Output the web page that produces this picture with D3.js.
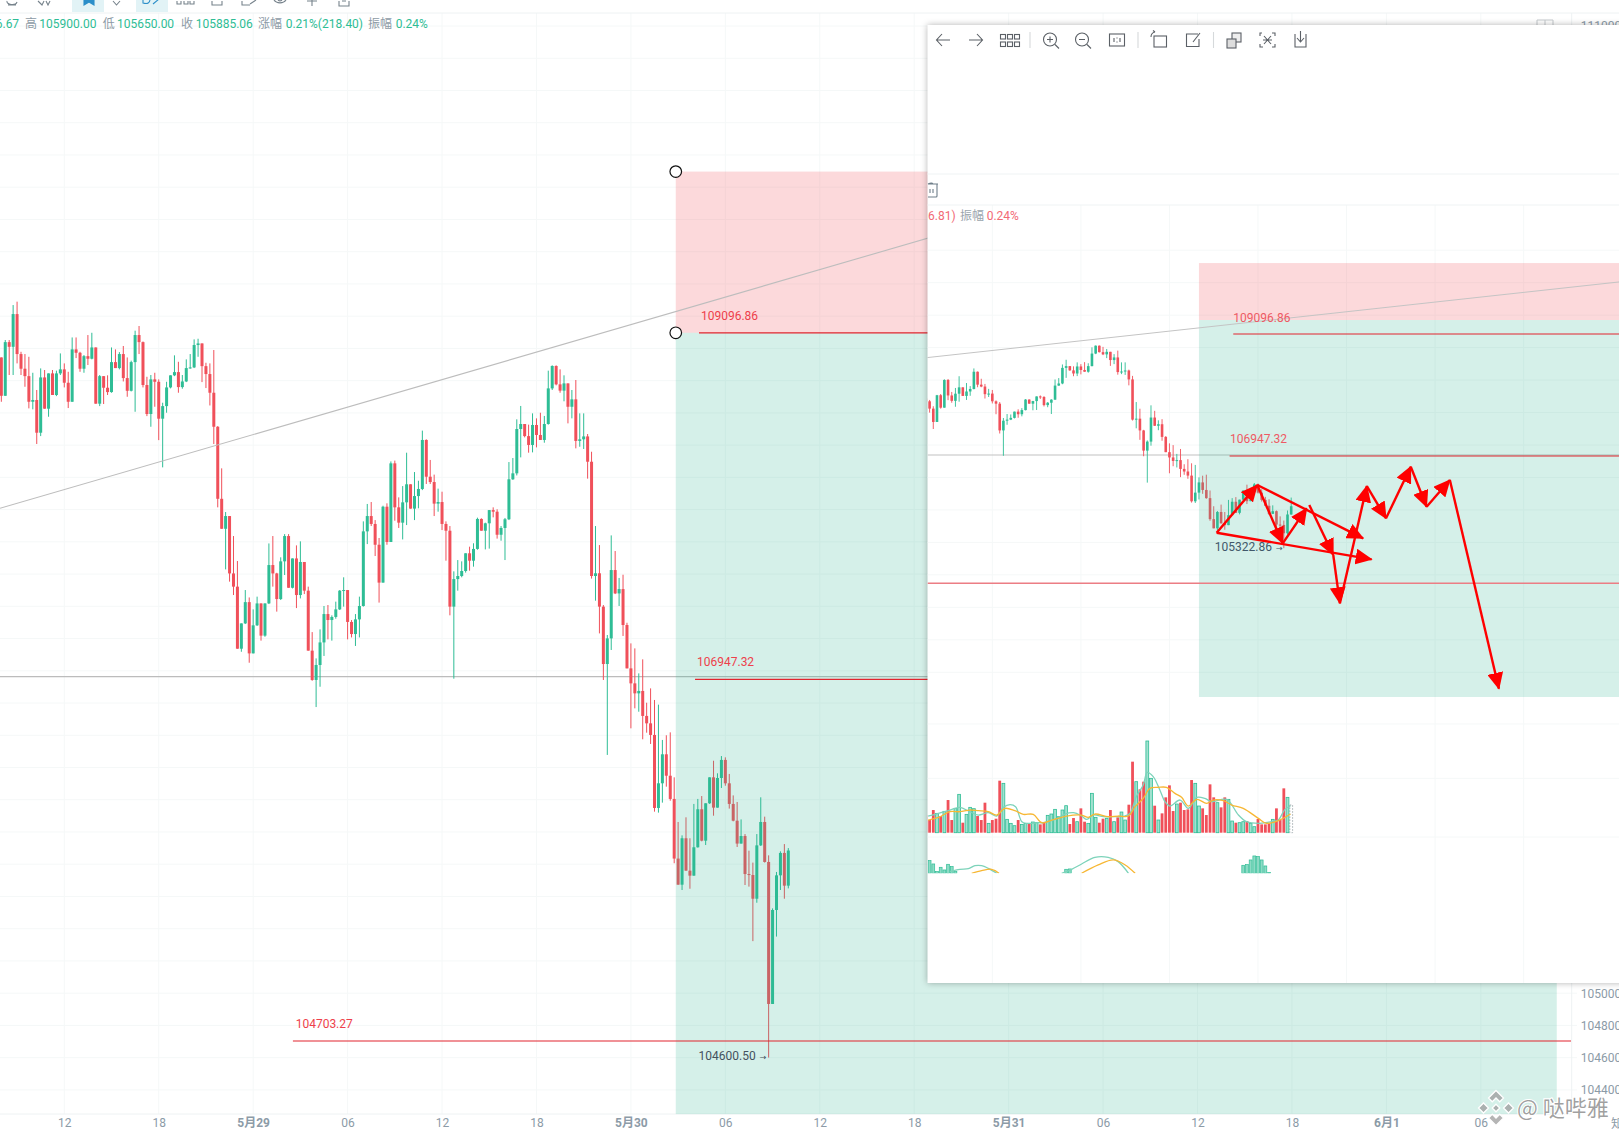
<!DOCTYPE html>
<html>
<head>
<meta charset="utf-8">
<title>BTC 15m</title>
<script src="https://cdn.jsdelivr.net/npm/d3@7/dist/d3.min.js"></script>
<style>
    html, body { margin: 0; padding: 0; background: #fff; overflow: hidden; }
    svg { display: block; font-family: Roboto, "Noto Sans CJK SC", sans-serif; }
</style>
</head>
<body>
<svg id="chart" width="1619" height="1133"></svg>
<script>
"use strict";

// 15 minute candles, index 0 is 5月28 08:00
var firstOpen = 108944;

var closes = [
    108706, 109039, 109010, 109213, 108965, 108874, 108828, 108669, 108680, 108477, 108820, 108626,
    108845, 108711, 108845, 108870, 108787, 108669, 108994, 108973, 108874, 108952, 108936, 109006,
    108657, 108828, 108756, 108729, 108915, 108878, 108965, 108816, 108737, 108915, 109083, 109039,
    108773, 108593, 108808, 108793, 108564, 108642, 108758, 108833, 108853, 108760, 108795, 108878,
    108882, 109021, 109031, 108890, 108841, 108725, 108514, 108067, 107881, 107960, 107604, 107522,
    107137, 107294, 107426, 107108, 107282, 107418, 107218, 107418, 107656, 107604, 107445, 107679,
    107836, 107515, 107697, 107470, 107675, 107497, 107125, 106943, 107036, 107176, 107352, 107315,
    107334, 107381, 107497, 107501, 107303, 107228, 107319, 107402, 107865, 107960, 107911, 107782,
    107547, 108018, 107799, 108287, 108014, 107919, 108045, 108157, 108006, 108084, 108128, 108432,
    108204, 108171, 108037, 108047, 107911, 107869, 107398, 107569, 107588, 107619, 107729, 107683,
    107756, 107942, 107869, 107915, 107997, 107987, 107844, 107886, 107940, 108188, 108225, 108500,
    108531, 108456, 108401, 108525, 108463, 108432, 108531, 108752, 108891, 108777, 108738, 108783,
    108638, 108684, 108426, 108436, 108454, 108297, 107588, 107605, 107398, 107042, 107201, 107625,
    107480, 107507, 107284, 107015, 106922, 106860, 106875, 106720, 106674, 106602, 106149, 106302,
    106482, 106349, 106205, 105835, 105673, 105961, 105760, 105729, 105905, 106141, 105946, 106178,
    106339, 106151, 106335, 106447, 106302, 106174, 106070, 105928, 105975, 105739, 105733, 105586,
    105917, 106062, 105814, 104933, 105516, 105731, 105870, 105667, 105885.06
];

var highs = [
    108944, 109052, 109052, 109269, 109290, 108979, 108965, 108948, 108849, 108742, 108876, 108866,
    108845, 108866, 108862, 108969, 108907, 108855, 109068, 109068, 108979, 108959, 109083, 109097,
    109006, 108835, 108828, 108833, 109006, 108994, 108977, 109015, 108944, 108924, 109110, 109139,
    109043, 108824, 108835, 108849, 108808, 108663, 108793, 108833, 108957, 108917, 108835, 108932,
    108965, 109056, 109060, 109031, 108911, 108907, 108990, 108518, 108256, 107985, 107960, 107836,
    107681, 107294, 107501, 107455, 107381, 107460, 107418, 107418, 107790, 107836, 107608, 107704,
    107848, 107848, 107697, 107778, 107803, 107675, 107522, 107240, 107077, 107257, 107402, 107408,
    107344, 107429, 107501, 107580, 107501, 107315, 107352, 107460, 107927, 108035, 108047, 107935,
    107824, 108024, 108039, 108299, 108304, 108076, 108146, 108353, 108157, 108233, 108179, 108490,
    108436, 108308, 108217, 108130, 108111, 107927, 107898, 107617, 107687, 107679, 107729, 107770,
    107791, 107950, 107946, 107919, 107997, 108014, 108002, 107898, 107948, 108295, 108320, 108560,
    108643, 108531, 108527, 108597, 108566, 108601, 108581, 108862, 108895, 108895, 108870, 108833,
    108783, 108742, 108804, 108597, 108597, 108469, 108359, 107898, 107780, 107408, 107222, 107840,
    107743, 107576, 107596, 107298, 107170, 107139, 106984, 107071, 106802, 106891, 106819, 106790,
    106571, 106600, 106618, 106339, 106062, 105979, 106091, 105961, 106174, 106205, 106223, 106178,
    106339, 106442, 106364, 106471, 106463, 106360, 106227, 106186, 106078, 105987, 105884, 105810,
    105987, 106215, 106095, 105855, 105526, 105752, 105880, 105925, 105900
];

var lows = [
    108669, 108706, 108835, 108835, 108907, 108835, 108762, 108628, 108622, 108407, 108456, 108626,
    108576, 108711, 108704, 108835, 108758, 108630, 108669, 108940, 108855, 108849, 108897, 108932,
    108657, 108642, 108655, 108711, 108725, 108878, 108870, 108795, 108700, 108733, 108607, 108965,
    108758, 108580, 108514, 108638, 108431, 108262, 108601, 108752, 108828, 108725, 108750, 108791,
    108874, 108878, 108948, 108791, 108754, 108646, 108407, 108014, 107881, 107629, 107553, 107470,
    107137, 107118, 107290, 107050, 107108, 107278, 107187, 107211, 107414, 107522, 107367, 107439,
    107594, 107515, 107511, 107389, 107449, 107476, 107125, 106938, 106775, 106901, 107092, 107195,
    107187, 107323, 107377, 107398, 107195, 107207, 107154, 107207, 107398, 107786, 107898, 107712,
    107423, 107547, 107782, 107799, 107931, 107886, 107815, 107904, 108006, 107935, 108008, 108121,
    108159, 108159, 107960, 107987, 107873, 107683, 107344, 106951, 107497, 107580, 107609, 107621,
    107646, 107751, 107869, 107753, 107758, 107952, 107820, 107807, 107687, 107935, 108184, 108212,
    108324, 108448, 108353, 108355, 108386, 108432, 108415, 108527, 108742, 108771, 108725, 108672,
    108535, 108566, 108380, 108390, 108376, 108192, 107572, 107435, 107232, 106943, 106478, 107129,
    107476, 107402, 107216, 107015, 106643, 106767, 106746, 106575, 106616, 106546, 106126, 106120,
    106182, 106281, 106194, 105806, 105673, 105640, 105760, 105648, 105729, 105903, 105942, 105919,
    106174, 106101, 106151, 106273, 106287, 106145, 106066, 105907, 105928, 105671, 105661, 105322.86,
    105561, 105913, 105810, 104600.5, 104933, 105351, 105640, 105586, 105650
];

var volumeStart = 94;
var volumes = [
    53, 38, 68, 58, 50, 64, 98, 38, 73, 115, 30, 55, 76, 72, 50, 38, 90, 28, 38, 42,
    156, 148, 40, 28, 21, 38, 25, 28, 26, 32, 30, 25, 30, 52, 56, 70, 48, 68, 81, 26,
    44, 33, 73, 33, 28, 118, 46, 30, 42, 43, 68, 33, 46, 62, 38, 84, 213, 153, 130, 153,
    275, 163, 81, 38, 58, 106, 142, 65, 86, 90, 68, 70, 158, 148, 80, 73, 53, 145, 106, 90,
    76, 106, 100, 35, 30, 30, 33, 35, 28, 18, 41, 25, 25, 28, 40, 73, 38, 133, 106, 83
];

// volume averages as [candle index, volume]
var volumeMaFast = [
    [94.6, 50], [97.4, 58], [100.5, 68], [103.2, 76], [105.9, 63], [108.2, 53], [110.9, 60], [113.2, 50],
    [115, 76], [116.8, 84], [118.3, 78], [120, 33], [121.3, 28], [124.5, 30], [125.8, 30], [129, 40],
    [131.7, 56], [134, 60], [136.2, 50], [137.6, 40], [139.4, 53], [142.1, 48], [144.3, 48], [147.9, 50],
    [149.3, 58], [151.1, 110], [152.9, 143], [154, 181], [155.6, 168], [157.4, 128], [158.8, 93], [160.1, 80],
    [162.9, 98], [165.1, 73], [167.4, 106], [169.6, 103], [171.4, 93], [175.5, 100], [178.7, 53], [180.9, 33],
    [184.5, 28], [187.7, 33], [189.5, 38], [191.3, 70], [192.8, 80]
];
var volumeMaSlow = [
    [94.6, 38], [97.4, 46], [100.5, 63], [103.2, 63], [105.9, 68], [108.2, 66], [110.9, 63], [113.2, 53],
    [115.4, 73], [118.1, 66], [120.4, 55], [123.1, 55], [125.4, 30], [128.1, 38], [130.8, 46], [132.1, 50],
    [136.2, 53], [138, 46], [139.8, 56], [143.4, 48], [146.1, 50], [148.9, 50], [150.7, 78], [152.9, 103],
    [154.7, 133], [157, 136], [159.2, 136], [161.5, 118], [163.3, 106], [165.1, 80], [167.4, 100], [170.1, 88],
    [171.9, 98], [174.6, 96], [176.9, 83], [180, 73], [184.1, 43], [186.3, 28], [189.5, 36], [192.8, 56]
];

// lower indicator, only its top is visible
var macdBars = [
    [95, 38], [96, 28], [97, 5], [98, 18], [99, 10], [100, 27], [101, 20], [102, 5],
    [132, 12], [133, 13],
    [180, 24], [181, 26], [182, 40], [183, 52], [184, 50], [185, 40], [186, 22], [187, 2]
];
var macdFast = [
    [[100.5, 5], [103.2, 12], [105.5, 14], [107.3, 23], [109.1, 23], [110.9, 15], [113.2, 0]],
    [[130.8, 0], [133.5, 12], [136.2, 28], [139.8, 48], [143.4, 48], [146.1, 35], [148.9, 0]]
];
var macdSlow = [
    [[106.4, 0], [109.1, 8], [111.8, 12], [113.8, 0]],
    [[136.2, 0], [140.7, 25], [144.8, 40], [148, 25], [150.7, 0]]
];

var priceGridTicks = d3.range(104400, 111200, 200);
var priceLabelTicks = [104400, 104600, 104800, 105000, 111000];
var timeTicks = [16, 40, 64, 88, 112, 136, 160, 184, 208, 232, 256, 280, 304, 328, 352, 376];
var timeLabels = ["12", "18", "5月29", "06", "12", "18", "5月30", "06", "12", "18", "5月31", "06", "12", "18", "6月1", "06"];
var insetGridIndex = [112, 136, 160, 184, 208, 232, 256];
var insetGridPrices = d3.range(103137, 111000, 572);
var volumeGridTicks = [326, 163, -13];

var takeProfit = 109096.86;
var midLevel = 106947.32;
var grayLevel = 106964;
var stopLevel = 104703.27;
var insetLow = 105322.86;
var mainLow = 104600.5;

// drawn trend line as [candle index, price]
var trendLine = [[-0.34, 108008], [320, 110285]];

var mainZone = { start: 171.4, end: 395.3, top: 110097, split: takeProfit, bottom: 104250 };
var insetZone = { start: 168, end: 290, top: 110347, split: 109343, bottom: 102701 };

// hand drawn arrows on the small chart, [candle index, price]
var arrowPoints = {
    A: [172.8, 105596], B: [183.8, 106436], C: [190.7, 105409], D: [197.2, 106026],
    E: [212.5, 105497], F: [214.8, 105127], G: [197.9, 106084], H: [204.4, 105203],
    I: [206.2, 104352], J: [213.5, 106418], K: [218.7, 105849], L: [225.4, 106759],
    M: [229.7, 106054], N: [236, 106524], O: [249.3, 102847]
};
var arrowLegs = ["AB", "BC", "CD", "BE", "AF", "GH", "HI", "IJ", "JK", "KL", "LM", "MN", "NO"];

var headerLabels = ["高", "低", "收", "涨幅", "振幅"];
var headerValues = ["105666.67", "105900.00", "105650.00", "105885.06", "0.21%(218.40)", "0.24%"];

var RED = "#f0505a";
var GREEN = "#2ebd95";
var LINE_RED = "#e2242e";
var AXIS_TEXT = "#8c9ba7";

var svg = d3.select("#chart");

var candles = closes.map(function(close, i) {
    return {
        i: i,
        open: i === 0 ? firstOpen : closes[i - 1],
        close: close,
        high: highs[i],
        low: lows[i]
    };
});

/**
 * Draw wicks and bodies of a candle range
 */
function drawCandles(parent, data, x, y, bodyWidth, wickWidth) {

    var groups = parent.selectAll("g.candle")
        .data(data)
        .enter()
        .append("g")
        .attr("class", "candle")
        .attr("fill", function(d) { return d.close >= d.open ? GREEN : RED; })
        .attr("stroke", function(d) { return d.close >= d.open ? GREEN : RED; });

    groups.append("line")
        .attr("x1", function(d) { return x(d.i); })
        .attr("x2", function(d) { return x(d.i); })
        .attr("y1", function(d) { return y(d.high); })
        .attr("y2", function(d) { return y(d.low); })
        .attr("stroke-width", wickWidth);

    groups.append("rect")
        .attr("x", function(d) { return x(d.i) - bodyWidth / 2; })
        .attr("width", bodyWidth)
        .attr("y", function(d) { return y(Math.max(d.open, d.close)); })
        .attr("height", function(d) { return Math.max(1, Math.abs(y(d.open) - y(d.close))); })
        .attr("stroke", "none");
}

/**
 * Pink and teal box of the long/short position tool
 */
function drawZone(parent, zone, x, y) {

    parent.append("rect")
        .attr("x", x(zone.start))
        .attr("width", x(zone.end) - x(zone.start))
        .attr("y", y(zone.top))
        .attr("height", y(zone.split) - y(zone.top))
        .attr("fill", "rgba(240,80,90,0.22)");

    parent.append("rect")
        .attr("x", x(zone.start))
        .attr("width", x(zone.end) - x(zone.start))
        .attr("y", y(zone.split))
        .attr("height", y(zone.bottom) - y(zone.split))
        .attr("fill", "rgba(43,182,145,0.2)");
}

function drawLevel(parent, level, x1, x2, y, color, width) {
    parent.append("line")
        .attr("x1", x1)
        .attr("x2", x2)
        .attr("y1", y(level))
        .attr("y2", y(level))
        .attr("stroke", color)
        .attr("stroke-width", width);
}

function drawLabel(parent, text, x, y, color) {
    return parent.append("text")
        .attr("x", x)
        .attr("y", y)
        .attr("dy", "0.35em")
        .attr("font-size", 12)
        .attr("fill", color)
        .text(text);
}

// price label followed by the small arrow pointing at the extreme
function drawLowLabel(parent, text, x, y, color) {
    var label = drawLabel(parent, text, x, y, color);
    label.append("tspan")
        .attr("dx", 4)
        .attr("font-family", "'DejaVu Sans'")
        .attr("font-size", 8)
        .text("→");
}

// ---------- main chart ----------

var xMain = d3.scaleLinear().domain([0, 200]).range([1.33, 788.3]);
var yMain = d3.scaleLinear().domain([stopLevel, takeProfit]).range([1041, 332.8]);

var mainChart = svg.append("g").attr("class", "main");

var mainGrid = mainChart.append("g").attr("stroke", "#f5f8f8").attr("stroke-width", 1);

mainGrid.selectAll("line.h")
    .data(priceGridTicks)
    .enter()
    .append("line")
    .attr("class", "h")
    .attr("x1", 0)
    .attr("x2", 1577)
    .attr("y1", yMain)
    .attr("y2", yMain);

mainGrid.selectAll("line.v")
    .data(timeTicks)
    .enter()
    .append("line")
    .attr("class", "v")
    .attr("x1", xMain)
    .attr("x2", xMain)
    .attr("y1", 13)
    .attr("y2", 1114);

mainChart.append("line")
    .attr("x1", 1571.7).attr("x2", 1571.7).attr("y1", 13).attr("y2", 1114)
    .attr("stroke", "#eef2f3");
mainChart.append("line")
    .attr("x1", 0).attr("x2", 1571.7).attr("y1", 1114).attr("y2", 1114)
    .attr("stroke", "#eef2f3");
mainChart.append("line")
    .attr("x1", 0).attr("x2", 1619).attr("y1", 13).attr("y2", 13)
    .attr("stroke", "#eef2f3");

drawLevel(mainChart, grayLevel, 0, 1571, yMain, "#bcbcbc", 1.2);

drawCandles(mainChart.append("g"), candles, xMain, yMain, 3, 1);

drawZone(mainChart, mainZone, xMain, yMain);

var trendPath = d3.line()
    .x(function(d) { return xMain(d[0]); })
    .y(function(d) { return yMain(d[1]); });

mainChart.append("path")
    .attr("d", trendPath(trendLine))
    .attr("fill", "none")
    .attr("stroke", "#bdbdbd")
    .attr("stroke-width", 1.1);

drawLevel(mainChart, takeProfit, xMain(177.3), 940, yMain, LINE_RED, 1.2);
drawLevel(mainChart, midLevel, xMain(176.3), 940, yMain, LINE_RED, 1.2);
drawLevel(mainChart, stopLevel, xMain(74.1), 1571, yMain, LINE_RED, 1.2);

drawLabel(mainChart, "109096.86", xMain(177.8), yMain(takeProfit) - 17, "#ee3f4b");
drawLabel(mainChart, "106947.32", xMain(176.8), yMain(midLevel) - 17, "#ee3f4b");
drawLabel(mainChart, "104703.27", xMain(74.8), yMain(stopLevel) - 17, "#ee3f4b");
drawLowLabel(mainChart, "104600.50", xMain(195.5) - 72, yMain(mainLow) - 2, "#44525e");

mainChart.selectAll("circle.handle")
    .data([mainZone.top, takeProfit])
    .enter()
    .append("circle")
    .attr("class", "handle")
    .attr("cx", xMain(mainZone.start))
    .attr("cy", yMain)
    .attr("r", 5.8)
    .attr("fill", "#fff")
    .attr("stroke", "#111")
    .attr("stroke-width", 1.2);

// axes
var yAxis = d3.axisRight(yMain)
    .tickValues(priceLabelTicks)
    .tickSize(0)
    .tickPadding(9)
    .tickFormat(d3.format("d"));

var yAxisGroup = mainChart.append("g")
    .attr("transform", "translate(1571.7,0)")
    .call(yAxis);
yAxisGroup.select(".domain").remove();
yAxisGroup.selectAll("text")
    .attr("fill", AXIS_TEXT)
    .attr("font-family", "Roboto")
    .attr("font-size", 12);

var xAxis = d3.axisBottom(xMain)
    .tickValues(timeTicks)
    .tickSize(0)
    .tickPadding(4)
    .tickFormat(function(d, i) { return timeLabels[i]; });

var xAxisGroup = mainChart.append("g")
    .attr("transform", "translate(0,1114)")
    .call(xAxis);
xAxisGroup.select(".domain").remove();
xAxisGroup.selectAll("text")
    .attr("fill", AXIS_TEXT)
    .attr("font-family", "Roboto, 'Noto Sans CJK SC'")
    .attr("font-size", 12)
    .attr("font-weight", function(d, i) { return timeLabels[i].indexOf("月") > 0 ? 700 : 400; });

drawLabel(mainChart, "知", 1611, 1123.5, AXIS_TEXT);

// header line
var headerX = [-38, 39.3, 117, 195.7, 285.7, 395.7];
var headerLabelX = [25, 102.7, 181, 258, 368];

headerValues.forEach(function(text, i) {
    drawLabel(mainChart, text, headerX[i], 24, GREEN);
});
headerLabels.forEach(function(text, i) {
    drawLabel(mainChart, text, headerLabelX[i], 24, "#8d9ba6");
});

// cropped tool bar along the top edge
var topBar = mainChart.append("g").attr("fill", "none").attr("stroke", "#77838c").attr("stroke-width", 1.1);

topBar.selectAll("rect.hl")
    .data([72, 136])
    .enter()
    .append("rect")
    .attr("class", "hl")
    .attr("x", function(d) { return d; })
    .attr("y", -1)
    .attr("width", 32)
    .attr("height", 13)
    .attr("fill", "#e2f3f6")
    .attr("stroke", "none");

topBar.append("path").attr("d", "M7 1 A5 3 0 0 0 17 2 M8 5 H16 M38 1 L42 5 L44 1 M46 1 L48 5 L50 1");
topBar.append("path").attr("d", "M84 -1 V5 L89 2 L94 5 V-1 Z").attr("fill", "#2c8fc9").attr("stroke", "#2c8fc9");
topBar.append("path").attr("d", "M113 1 L116.5 5 L120 1");
topBar.append("path").attr("d", "M143 -1 V3 Q150 5 150 -1 M153 4 L159 -1").attr("stroke", "#2c8fc9");
topBar.append("path").attr("d", "M177 1 V4 H181 V1 M184 1 V4 H188 V1 M190 1 V4 H194 V1");
topBar.append("path").attr("d", "M212 1 V5 H222 V1 M242 1 V5 H250 M250 4 L256 0");
topBar.append("path").attr("d", "M274 0 A7 6 0 0 0 286 0 M278 0 A3 3 0 0 0 282 0");
topBar.append("path").attr("d", "M312 0 V6 M307 1 H317");
topBar.append("path").attr("d", "M339 1 V6 H349 V1 M342 1 H346");

// cropped price scale control
mainChart.append("path")
    .attr("d", "M1537 25 V20 H1553 V25 M1545 20 V25")
    .attr("fill", "none")
    .attr("stroke", "#c4c9cc");

// ---------- pasted small chart ----------

var paneX = 927.5, paneY = 25, paneW = 700, paneH = 958;

svg.append("rect")
    .attr("x", paneX)
    .attr("y", paneY)
    .attr("width", paneW)
    .attr("height", paneH)
    .attr("fill", "#fff")
    .style("filter", "drop-shadow(0 0 3px rgba(0,0,0,0.3))");

svg.append("clipPath")
    .attr("id", "paneClip")
    .append("rect")
    .attr("x", paneX)
    .attr("y", 205)
    .attr("width", paneW)
    .attr("height", paneY + paneH - 205);

svg.append("clipPath")
    .attr("id", "macdClip")
    .append("rect")
    .attr("x", paneX)
    .attr("y", 840)
    .attr("width", paneW)
    .attr("height", 33.3);

var xInset = d3.scaleLinear().domain([154, 193]).range([1147.3, 1291.2]);
var yInset = d3.scaleLinear().domain([midLevel, takeProfit]).range([456, 334]);
var yVolume = d3.scaleLinear().domain([0, 275]).range([832.7, 741]);
var yMacd = d3.scaleLinear().domain([0, 60]).range([873.3, 853.3]);

var inset = svg.append("g").attr("clip-path", "url(#paneClip)");

var insetGrid = inset.append("g").attr("stroke", "#f5f8f8").attr("stroke-width", 1);

insetGrid.selectAll("line.h")
    .data(insetGridPrices)
    .enter()
    .append("line")
    .attr("class", "h")
    .attr("x1", paneX)
    .attr("x2", 1619)
    .attr("y1", yInset)
    .attr("y2", yInset);

insetGrid.selectAll("line.vol")
    .data(volumeGridTicks)
    .enter()
    .append("line")
    .attr("class", "vol")
    .attr("x1", paneX)
    .attr("x2", 1619)
    .attr("y1", yVolume)
    .attr("y2", yVolume);

insetGrid.selectAll("line.v")
    .data(insetGridIndex)
    .enter()
    .append("line")
    .attr("class", "v")
    .attr("x1", xInset)
    .attr("x2", xInset)
    .attr("y1", 205)
    .attr("y2", 983);

// lines above the plot of the small chart
svg.append("g")
    .attr("stroke", "#eff3f4")
    .selectAll("line")
    .data([174, 205])
    .enter()
    .append("line")
    .attr("x1", paneX)
    .attr("x2", 1619)
    .attr("y1", function(d) { return d; })
    .attr("y2", function(d) { return d; });

drawLevel(inset, grayLevel, paneX, 1619, yInset, "#c2c2c2", 1.1);

drawCandles(inset.append("g"), candles.slice(volumeStart, 194), xInset, yInset, 2.6, 0.9);

drawZone(inset, insetZone, xInset, yInset);

var insetTrend = d3.line()
    .x(function(d) { return xInset(d[0]); })
    .y(function(d) { return yInset(d[1]); });

inset.append("path")
    .attr("d", insetTrend(trendLine))
    .attr("fill", "none")
    .attr("stroke", "#c4c4c4")
    .attr("stroke-width", 1);

drawLevel(inset, takeProfit, xInset(177.3), 1619, yInset, LINE_RED, 1);
drawLevel(inset, midLevel, xInset(176.3), 1619, yInset, LINE_RED, 1);
drawLevel(inset, stopLevel, paneX, 1619, yInset, "#ec7d84", 1.5);

drawLabel(inset, "109096.86", xInset(177.3), yInset(takeProfit) - 16, "#ee5a64");
drawLabel(inset, "106947.32", xInset(176.4), yInset(midLevel) - 17, "#ee5a64");
drawLowLabel(inset, "105322.86", xInset(191) - 69, yInset(insetLow) - 1, "#41586a");

// volume pane
var volumeData = volumes.map(function(v, k) {
    return { i: volumeStart + k, v: v };
});

inset.append("g")
    .selectAll("rect")
    .data(volumeData)
    .enter()
    .append("rect")
    .attr("x", function(d) { return xInset(d.i) - 1.4; })
    .attr("width", 2.8)
    .attr("y", function(d) { return yVolume(d.v); })
    .attr("height", function(d) { return yVolume(0) - yVolume(d.v); })
    .attr("fill", function(d) {
        if (d.i === 193) { return "none"; }
        return candles[d.i].close >= candles[d.i].open ? "rgba(46,189,149,0.45)" : RED;
    })
    .attr("stroke", function(d) {
        if (d.i === 193) { return "#8f9a9f"; }
        return candles[d.i].close >= candles[d.i].open ? GREEN : "none";
    })
    .attr("stroke-width", 0.8)
    .attr("stroke-dasharray", function(d) { return d.i === 193 ? "1.5 1.5" : null; });

var volumeLine = d3.line()
    .curve(d3.curveCatmullRom)
    .x(function(d) { return xInset(d[0]); })
    .y(function(d) { return yVolume(d[1]); });

inset.append("path")
    .attr("d", volumeLine(volumeMaFast))
    .attr("fill", "none")
    .attr("stroke", "#7dd3ba")
    .attr("stroke-width", 1.3);

inset.append("path")
    .attr("d", volumeLine(volumeMaSlow))
    .attr("fill", "none")
    .attr("stroke", "#f7b733")
    .attr("stroke-width", 1.3);

// indicator pane
var macdPane = inset.append("g").attr("clip-path", "url(#macdClip)");

macdPane.selectAll("rect")
    .data(macdBars)
    .enter()
    .append("rect")
    .attr("x", function(d) { return xInset(d[0]) - 1.4; })
    .attr("width", 2.8)
    .attr("y", function(d) { return yMacd(d[1]); })
    .attr("height", function(d) { return yMacd(0) - yMacd(d[1]); })
    .attr("fill", "rgba(46,189,149,0.55)")
    .attr("stroke", GREEN)
    .attr("stroke-width", 0.7);

var macdLine = d3.line()
    .curve(d3.curveCatmullRom)
    .x(function(d) { return xInset(d[0]); })
    .y(function(d) { return yMacd(d[1]); });

macdFast.forEach(function(points) {
    macdPane.append("path")
        .attr("d", macdLine(points))
        .attr("fill", "none")
        .attr("stroke", "#7dd3ba")
        .attr("stroke-width", 1.3);
});
macdSlow.forEach(function(points) {
    macdPane.append("path")
        .attr("d", macdLine(points))
        .attr("fill", "none")
        .attr("stroke", "#f7b733")
        .attr("stroke-width", 1.3);
});

// hand drawn arrows
svg.append("defs")
    .append("marker")
    .attr("id", "arrowHead")
    .attr("markerUnits", "userSpaceOnUse")
    .attr("viewBox", "0 0 17 16")
    .attr("refX", 16)
    .attr("refY", 8)
    .attr("markerWidth", 17)
    .attr("markerHeight", 16)
    .attr("orient", "auto")
    .append("path")
    .attr("d", "M0 0 L17 8 L0 16 Z")
    .attr("fill", "#ff0000");

svg.append("g")
    .selectAll("line")
    .data(arrowLegs)
    .enter()
    .append("line")
    .attr("x1", function(d) { return xInset(arrowPoints[d[0]][0]); })
    .attr("y1", function(d) { return yInset(arrowPoints[d[0]][1]); })
    .attr("x2", function(d) { return xInset(arrowPoints[d[1]][0]); })
    .attr("y2", function(d) { return yInset(arrowPoints[d[1]][1]); })
    .attr("stroke", "#ff0000")
    .attr("stroke-width", 2.4)
    .attr("marker-end", "url(#arrowHead)");

// inset header text left over from the screenshot
drawLabel(svg, "6.81)", 928, 215.7, "#f26a75");
drawLabel(svg, "振幅", 960, 215.7, "#9aa5ad");
drawLabel(svg, "0.24%", 986.7, 215.7, "#f26a75");

// trash icon of the position tool
svg.append("path")
    .attr("d", "M928 184 H938 M933 184 H937 V196 Q937 197 936 197 H928 M928 184 Q932 182 933 184 M930 189 V193 M933 189 V193")
    .attr("fill", "none")
    .attr("stroke", "#6f7f8a")
    .attr("stroke-width", 1.1);

// tool bar of the viewer
var viewerIcons = svg.append("g")
    .attr("fill", "none")
    .attr("stroke", "#5b6066")
    .attr("stroke-width", 1.1);

viewerIcons.append("path").attr("d", "M950 40 H937 M942 34 L936.5 40 L942 46");
viewerIcons.append("path").attr("d", "M969 40 H982 M977 34 L982.5 40 L977 46");
viewerIcons.selectAll("rect.cell")
    .data([0, 1, 2, 3, 4, 5])
    .enter()
    .append("rect")
    .attr("class", "cell")
    .attr("x", function(d) { return 1000.5 + (d % 3) * 7; })
    .attr("y", function(d) { return 34.5 + Math.floor(d / 3) * 7.5; })
    .attr("width", 5)
    .attr("height", 4.5);
viewerIcons.selectAll("line.sep")
    .data([1030, 1138, 1213.5])
    .enter()
    .append("line")
    .attr("class", "sep")
    .attr("x1", function(d) { return d; })
    .attr("x2", function(d) { return d; })
    .attr("y1", 32)
    .attr("y2", 48)
    .attr("stroke", "#d6d9db");
viewerIcons.append("circle").attr("cx", 1050).attr("cy", 39.5).attr("r", 6.5);
viewerIcons.append("path").attr("d", "M1055 44.5 L1059 48.5 M1047 39.5 H1053 M1050 36.5 V42.5");
viewerIcons.append("circle").attr("cx", 1082).attr("cy", 39.5).attr("r", 6.5);
viewerIcons.append("path").attr("d", "M1087 44.5 L1091 48.5 M1079 39.5 H1085");
viewerIcons.append("rect").attr("x", 1109.5).attr("y", 34).attr("width", 15).attr("height", 12);
viewerIcons.append("path").attr("d", "M1114 38 V42 M1117 37.5 V38.5 M1117 41.5 V42.5 M1120 38 V42");
viewerIcons.append("rect").attr("x", 1154).attr("y", 36).attr("width", 12.5).attr("height", 11);
viewerIcons.append("path").attr("d", "M1151 37 Q1151 33 1155 32 M1155 32 L1153 30.5");
viewerIcons.append("path").attr("d", "M1198 34 H1186.5 V46.5 H1199 V39 M1193 42 L1200 33");
viewerIcons.append("rect").attr("x", 1232).attr("y", 33).attr("width", 9).attr("height", 9).attr("fill", "#eee");
viewerIcons.append("rect").attr("x", 1227).attr("y", 39).attr("width", 9).attr("height", 9).attr("fill", "#ddd");
viewerIcons.append("path").attr("d", "M1262 33 H1260 V36 M1272 33 H1275 V36 M1260 44 V47 H1263 M1275 44 V47 H1272 M1264 36 L1271 44 M1271 36 L1264 44 M1263 40 H1272");
viewerIcons.append("path").attr("d", "M1295 34 V47 H1306 V34 M1300.5 31 V41 M1297 38 L1300.5 42 L1304 38");

// ---------- watermark ----------

var mark = svg.append("g").attr("class", "watermark");

mark.append("g")
    .attr("transform", "translate(1496,1108) scale(1.25)")
    .attr("fill", "#9c9c9c")
    .attr("fill-opacity", 0.75)
    .attr("stroke", "#fff")
    .attr("stroke-width", 1)
    .selectAll("path")
    .data([
        "M0 -14 L6 -8 L3 -5 L0 -8 L-3 -5 L-6 -8 Z",
        "M0 14 L6 8 L3 5 L0 8 L-3 5 L-6 8 Z",
        "M-14 0 L-10 -4 L-6 0 L-10 4 Z",
        "M14 0 L10 -4 L6 0 L10 4 Z",
        "M0 -3 L3 0 L0 3 L-3 0 Z"
    ])
    .enter()
    .append("path")
    .attr("d", function(d) { return d; });

mark.append("text")
    .attr("x", 1517)
    .attr("y", 1108)
    .attr("dy", "0.35em")
    .attr("font-size", 22)
    .attr("font-family", "'Noto Sans CJK SC', sans-serif")
    .attr("fill", "#8f8f8f")
    .attr("fill-opacity", 0.85)
    .attr("stroke", "#fff")
    .attr("stroke-width", 2.2)
    .attr("paint-order", "stroke")
    .text("@ 哒哔雅");
</script>
</body>
</html>
